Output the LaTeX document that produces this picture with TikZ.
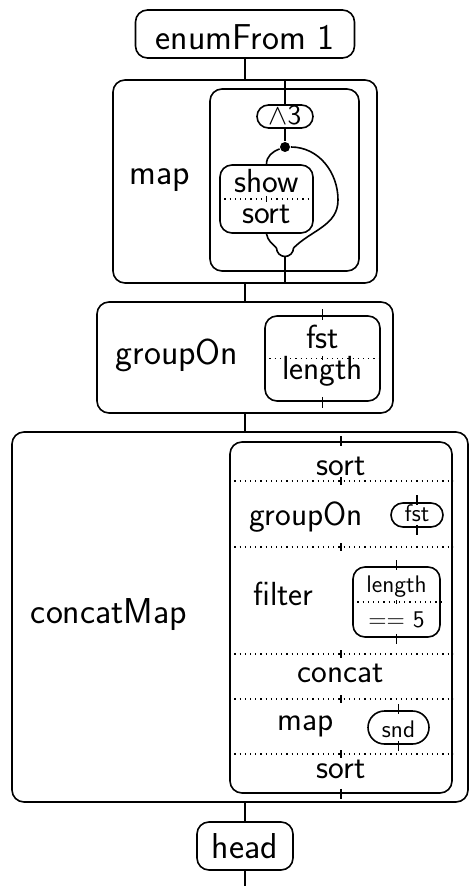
\documentclass[tikz,border=0pt]{standalone}
\usetikzlibrary{calc}
\renewcommand{\familydefault}{\sfdefault}
\newcommand{\topsize}{\fontsize{18}{21}\selectfont}
\newcommand{\midsize}{\fontsize{16.7}{20}\selectfont}
\newcommand{\lowsize}{\fontsize{12}{14}\selectfont}

\begin{document}
\begin{tikzpicture}[x=0.5pt, y=-0.5pt, line width=0.8pt,
    box/.style={draw, rounded corners=6pt, inner sep=0pt},
    lbl/.style={anchor=base, inner sep=0pt},
    divider/.style={dotted, line width=0.6pt},
    wiretick/.style={line width=0.8pt}]
  \useasboundingbox (0,0) rectangle (470,886);

  % enumFrom 1
  \node[box, minimum width=109.5pt, minimum height=24pt] (enum) at (245,34) {};
  \node[lbl, font=\topsize] (enumtxt) at (245,50) {enumFrom 1};

  % map
  \node[box, minimum width=132pt, minimum height=101.5pt] (mapbox) at (245,181.5) {};
  \node[lbl, font=\topsize] (maptxt) at (160,185) {map};
  \node[box, minimum width=74.5pt, minimum height=91pt] (mapfun) at (284.5,180) {};
  \node[box, rounded corners=5.75pt, minimum width=28pt, minimum height=11.5pt] (pow) at (285,116.5) {};
  \node[lbl, font=\fontsize{14}{16}\selectfont] (powtxt) at (285,124.5) {$\wedge$3};
  \node[circle, fill, inner sep=0pt, minimum size=5pt] (fork) at (285,147) {};
  \node[box, minimum width=46.5pt, minimum height=34pt] (showsort) at (266.5,199) {};
  \node[lbl, font=\midsize] (showtxt) at (266.5,193) {show};
  \node[lbl, font=\midsize] (sorttxt) at (266.5,224) {sort};
  \draw[divider] (showsort.west) -- (showsort.east);
  \draw[wiretick, shift={(showsort.center)}] (0,-3) -- (0,3);
  \coordinate (join) at (285,248);
  \coordinate (loop) at (338,200);
  \draw ([xshift=-4.25pt]join) arc[start angle=180, end angle=360, radius=4.25pt];

  % groupOn
  \node[box, minimum width=148pt, minimum height=55.5pt] (grpbox) at (245,357.5) {};
  \node[lbl, font=\topsize] (grptxt) at (177,365) {groupOn};
  \node[box, minimum width=57.5pt, minimum height=42.5pt] (grpkey) at (322.5,358.5) {};
  \node[lbl, font=\midsize] (fsttxt) at (322.5,349) {fst};
  \node[lbl, font=\midsize] (lentxt) at (322.5,380) {length};
  \draw[divider] (grpkey.west) -- (grpkey.east);
  \draw[wiretick, shift={(grpkey.north)}] (0,-6) -- (0,5);
  \draw[wiretick, shift={(grpkey.south)}] (0,-5) -- (0,6);
  \draw[wiretick, shift={(grpkey.center)}] (0,-2) -- (0,2);

  % concatMap
  \node[box, minimum width=228pt, minimum height=185pt] (cmbox) at (240,617) {};
  \node[lbl, font=\topsize] (cmtxt) at (109,623) {concatMap};
  \node[box, minimum width=111pt, minimum height=175.5pt] (steps) at (341,617.5) {};
  \foreach \y in {481,547,654,699,754} {
    \draw[divider] (steps.west |- 0,\y) -- (steps.east |- 0,\y);
    \draw[wiretick, shift={(steps.north |- 0,\y)}] (0,-4) -- (0,4);
  }
  \draw[wiretick, shift={(steps.north)}] (0,-5) -- (0,5);
  \draw[wiretick, shift={(steps.south)}] (0,-5) -- (0,5);
  \node[lbl, font=\midsize] (sorta) at (341,475) {sort};
  \node[lbl, font=\midsize] (grpb) at (306,525) {groupOn};
  \node[box, rounded corners=6pt, minimum width=26pt, minimum height=12pt] (fstpill) at (417,515) {};
  \node[lbl, font=\lowsize] (fstb) at (417,521) {fst};
  \draw[wiretick, shift={(fstpill.north)}] (0,-7) -- (0,3);
  \draw[wiretick, shift={(fstpill.south)}] (0,-3) -- (0,7);
  \node[lbl, font=\midsize] (filtertxt) at (283.5,605) {filter};
  \node[box, minimum width=43.5pt, minimum height=35pt] (pred) at (396.5,602) {};
  \node[lbl, font=\lowsize] (lenb) at (396.5,592) {length};
  \node[lbl, font=\lowsize] (eqfive) at (396.5,627) {== 5};
  \draw[divider] (pred.west) -- (pred.east);
  \draw[wiretick, shift={(pred.north)}] (0,-6) -- (0,4);
  \draw[wiretick, shift={(pred.south)}] (0,-4) -- (0,6);
  \draw[wiretick, shift={(pred.center)}] (0,-2) -- (0,2);
  \node[lbl, font=\midsize] (concattxt) at (341,682) {concat};
  \node[lbl, font=\midsize] (mapb) at (306,730) {map};
  \node[box, rounded corners=8.25pt, minimum width=30.5pt, minimum height=16.5pt] (sndpill) at (398.5,727.5) {};
  \node[lbl, font=\lowsize] (sndtxt) at (398.5,737) {snd};
  \draw[wiretick, shift={(sndpill.north)}] (0,-6) -- (0,4);
  \draw[wiretick, shift={(sndpill.south)}] (0,-4) -- (0,6);
  \node[lbl, font=\midsize] (sortb) at (341,778) {sort};

  % head
  \node[box, minimum width=48pt, minimum height=24pt] (head) at (245,846) {};
  \node[lbl, font=\topsize] (headtxt) at (245,858) {head};
  \coordinate (out) at (245,886);

  % wires
  \draw (enum.south) -- (enum.south |- mapbox.north);
  \draw (pow.north |- mapbox.north) -- (pow.north);
  \draw (pow.south) -- (fork);
  \draw (fork) to[out=200, in=90] (showsort.north);
  \draw (fork) to[out=0, in=90] (loop) to[out=-90, in=45] ([xshift=4.25pt]join);
  \draw (showsort.south) to[out=-80, in=135] ([xshift=-4.25pt]join);
  \draw ([yshift=-4.25pt]join) -- (join |- mapbox.south);
  \draw (mapbox.south) -- (grpbox.north);
  \draw (grpbox.south) -- (grpbox.south |- cmbox.north);
  \draw (head.north |- cmbox.south) -- (head.north);
  \draw (head.south) -- (out);
\end{tikzpicture}
\end{document}
